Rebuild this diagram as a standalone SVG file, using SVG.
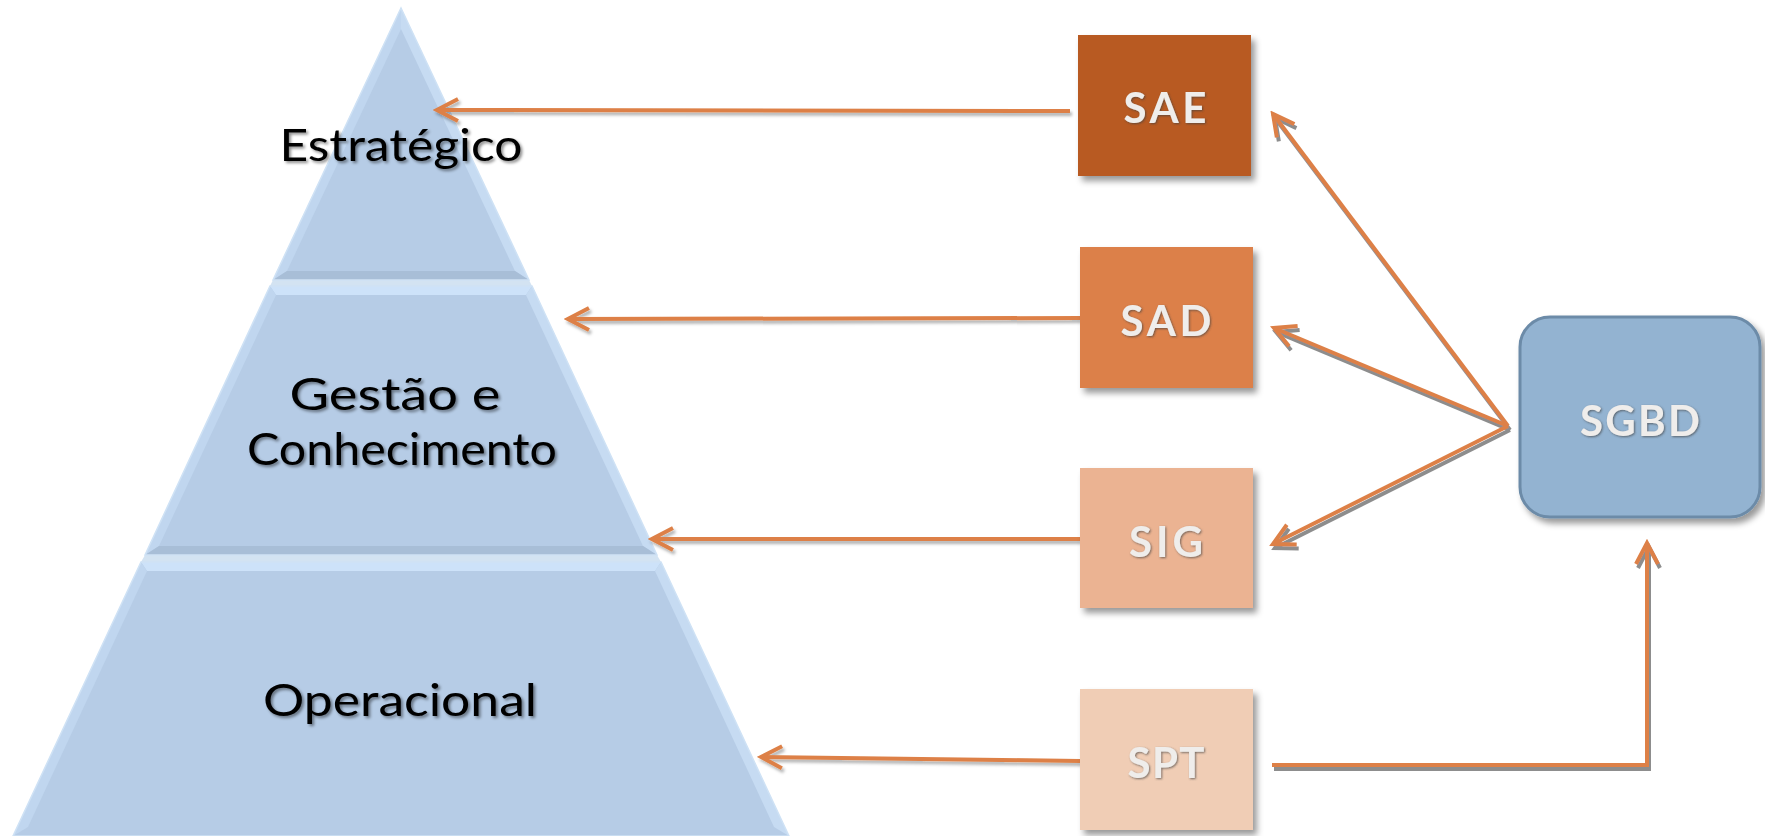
<svg xmlns="http://www.w3.org/2000/svg" width="1765" height="836" viewBox="0 0 1765 836">
  <style>
    .lvl { font-family: Lato, "Liberation Sans", sans-serif; font-size: 44px; fill: #000; text-anchor: middle; filter: url(#txtShadow); }
    .box { filter: url(#boxShadow); }
    .lbl { font-family: Lato, "Liberation Sans", Arial, sans-serif; font-weight: bold; font-size: 42px; fill: #EFEDEB; text-anchor: middle; filter: url(#lblShadow); }
    .conn { fill: none; stroke: #DD8047; stroke-width: 4; }
    .c-main { fill: #B6CCE6; }
    .c-left { fill: #C0D6EF; }
    .c-right { fill: #C6DBF2; }
    .c-top { fill: #CDE2F9; }
    .c-bot { fill: #A8BED7; }
    .c-gap { fill: #D3E3F2; }
    .edge { fill: none; stroke: #CFE2F5; stroke-width: 1.5; }
  </style>
  <defs>
    <marker id="arr" viewBox="-26 -14 30 28" markerWidth="30" markerHeight="28" refX="0" refY="0" orient="auto" markerUnits="userSpaceOnUse">
      <path d="M-21,-11 L0,0 L-21,11" fill="none" stroke="#DD8047" stroke-width="4" stroke-linejoin="miter"/>
    </marker>
    <filter id="txtShadow" x="-10%" y="-30%" width="120%" height="160%">
      <feDropShadow dx="2" dy="2" stdDeviation="1.5" flood-color="#000" flood-opacity="0.45"/>
    </filter>
    <filter id="lblShadow" x="-10%" y="-30%" width="120%" height="160%">
      <feDropShadow dx="1" dy="1" stdDeviation="0.8" flood-color="#404040" flood-opacity="0.7"/>
    </filter>
    <filter id="boxShadow" x="-10%" y="-10%" width="125%" height="125%">
      <feDropShadow dx="4" dy="5" stdDeviation="3" flood-color="#000" flood-opacity="0.4"/>
    </filter>
    <filter id="lineShadowR" x="-5%" y="-5%" width="110%" height="110%">
      <feDropShadow dx="2" dy="4" stdDeviation="0.4" flood-color="#808080" flood-opacity="0.9"/>
    </filter>
    <filter id="lineShadowL" x="-5%" y="-50%" width="110%" height="200%">
      <feDropShadow dx="2" dy="3" stdDeviation="1.5" flood-color="#000" flood-opacity="0.3"/>
    </filter>
  </defs>
  <rect width="1765" height="836" fill="#FFFFFF"/>

  <g id="pyramid">
    <polygon class="c-gap" points="273,280 529,280 532,286 270,286"/>
    <polygon class="c-gap" points="145,555 657,555 661,562 141,562"/>
    <g id="level-estrategico">
      <polygon class="c-main" points="401,8 529,280 273,280"/>
      <polygon class="c-left" points="401,8 401,29 287,271 273,280"/>
      <polygon class="c-right" points="401,8 529,280 515,271 401,29"/>
      <polygon class="c-bot" points="273,280 287,271 515,271 529,280"/>
      <polygon class="edge" points="401,8 529,280 273,280"/>
      <text class="lvl" x="401" y="161" textLength="243" lengthAdjust="spacingAndGlyphs">Estratégico</text>
    </g>
    <g id="level-gestao">
      <polygon class="c-main" points="270,286 532,286 657,555 145,555"/>
      <polygon class="c-top" points="270,286 532,286 526,295 276,295"/>
      <polygon class="c-left" points="270,286 276,295 159,546 145,555"/>
      <polygon class="c-right" points="532,286 657,555 643,546 526,295"/>
      <polygon class="c-bot" points="145,555 159,546 643,546 657,555"/>
      <polygon class="edge" points="270,286 532,286 657,555 145,555"/>
      <text class="lvl" x="395" y="410" textLength="211" lengthAdjust="spacingAndGlyphs">Gestão e</text>
      <text class="lvl" x="402" y="465" textLength="310" lengthAdjust="spacingAndGlyphs">Conhecimento</text>
    </g>
    <g id="level-operacional">
      <polygon class="c-main" points="141,562 661,562 789,836 13,836"/>
      <polygon class="c-top" points="141,562 661,562 655,571 147,571"/>
      <polygon class="c-left" points="141,562 147,571 28,827 13,836"/>
      <polygon class="c-right" points="661,562 789,836 774,827 655,571"/>
      <polygon class="edge" points="141,562 661,562 789,836 13,836"/>
      <text class="lvl" x="400" y="716" textLength="274" lengthAdjust="spacingAndGlyphs">Operacional</text>
    </g>
  </g>

  <g id="connectors">
    <g filter="url(#lineShadowL)">
      <line class="conn" x1="1070" y1="111" x2="437" y2="110" marker-end="url(#arr)"/>
      <line class="conn" x1="1080" y1="318" x2="568" y2="319" marker-end="url(#arr)"/>
      <line class="conn" x1="1080" y1="539" x2="652" y2="539" marker-end="url(#arr)"/>
      <line class="conn" x1="1080" y1="761" x2="761" y2="757" marker-end="url(#arr)"/>
    </g>
    <g filter="url(#lineShadowR)">
      <line class="conn" x1="1508" y1="426" x2="1273" y2="114" marker-end="url(#arr)"/>
      <line class="conn" x1="1508" y1="426" x2="1274" y2="328" marker-end="url(#arr)"/>
      <line class="conn" x1="1508" y1="426" x2="1273" y2="544" marker-end="url(#arr)"/>
      <polyline class="conn" points="1272,765 1647,765 1647,543" marker-end="url(#arr)"/>
    </g>
  </g>

  <g id="node-SAE">
    <rect class="box" x="1078" y="35" width="173" height="141" fill="#B85A22"/>
    <text class="lbl" x="1165" y="123" textLength="83" lengthAdjust="spacing">SAE</text>
  </g>
  <g id="node-SAD">
    <rect class="box" x="1080" y="247" width="173" height="141" fill="#DC8048"/>
    <text class="lbl" x="1166" y="336" textLength="91" lengthAdjust="spacing">SAD</text>
  </g>
  <g id="node-SIG">
    <rect class="box" x="1080" y="468" width="173" height="140" fill="#EBB392"/>
    <text class="lbl" x="1166" y="557" textLength="74" lengthAdjust="spacing">SIG</text>
  </g>
  <g id="node-SPT">
    <rect class="box" x="1080" y="689" width="173" height="141" fill="#F0CDB5"/>
    <text class="lbl" x="1166" y="778" textLength="77" lengthAdjust="spacing">SPT</text>
  </g>
  <g id="node-SGBD">
    <rect class="box" x="1520" y="317" width="240" height="200" rx="30" ry="30" fill="#93B3D1" stroke="#6C8BA8" stroke-width="3"/>
    <text class="lbl" x="1640" y="436" textLength="120" lengthAdjust="spacing">SGBD</text>
  </g>
</svg>
